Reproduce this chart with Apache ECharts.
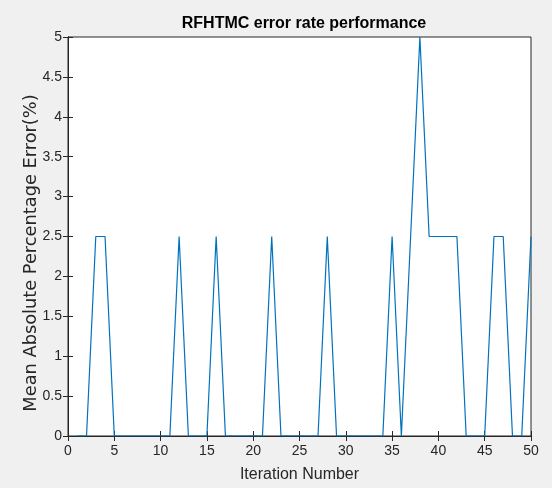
<!DOCTYPE html>
<html>
<head>
<meta charset="utf-8">
<script src="https://cdn.jsdelivr.net/npm/echarts@6/dist/echarts.min.js"></script>
<style>
html,body{margin:0;padding:0;background:#f0f0f0;}
#c{width:552px;height:488px;}
</style>
</head>
<body>
<div id="c"></div>
<script>
const titleText = 'RFHTMC error rate performance';
const xName = 'Iteration Number';
const yName = 'Mean Absolute Percentage Error(%)';
const iterations = [1,2,3,4,5,6,7,8,9,10,11,12,13,14,15,16,17,18,19,20,21,22,23,24,25,26,27,28,29,30,31,32,33,34,35,36,37,38,39,40,41,42,43,44,45,46,47,48,49,50];
const errorRate = [0,0,2.5,2.5,0,0,0,0,0,0,0,2.5,0,0,0,2.5,0,0,0,0,0,2.5,0,0,0,0,0,2.5,0,0,0,0,0,0,2.5,0,2.5,5,2.5,2.5,2.5,2.5,0,0,0,2.5,2.5,0,0,2.5];

const font = 'Liberation Sans, Arial, sans-serif';
const chart = echarts.init(document.getElementById('c'));
const axisLine = {show: true, lineStyle: {color: '#262626', width: 1}};
const axisTick = {show: true, inside: true, length: 5, lineStyle: {color: '#262626'}};
const labelStyle = {color: '#262626', fontSize: 14, fontFamily: font};
chart.setOption({
  backgroundColor: '#f0f0f0',
  animation: false,
  title: {
    text: titleText, left: 299, top: 11, textAlign: 'center',
    textStyle: {fontSize: 16, fontWeight: 'bold', color: '#000', fontFamily: font}
  },
  grid: {left: 68, right: 21, top: 37, bottom: 50, show: true, backgroundColor: '#ffffff', borderColor: '#262626', borderWidth: 1},
  xAxis: [
    {type: 'value', min: 0, max: 50, interval: 5, position: 'bottom',
      name: xName, nameLocation: 'middle', nameGap: 31,
      nameTextStyle: {fontSize: 16, color: '#262626', fontFamily: font},
      axisLine, axisTick, splitLine: {show: false},
      axisLabel: Object.assign({margin: 8}, labelStyle)},
    {type: 'value', min: 0, max: 50, interval: 5, position: 'top',
      axisLine, axisTick, splitLine: {show: false}, axisLabel: {show: false}}
  ],
  yAxis: [
    {type: 'value', min: 0, max: 5, interval: 0.5, position: 'left',
      axisLine, axisTick, splitLine: {show: false},
      axisLabel: Object.assign({margin: 6}, labelStyle)},
    {type: 'value', min: 0, max: 5, interval: 0.5, position: 'right',
      axisLine, axisTick, splitLine: {show: false}, axisLabel: {show: false}}
  ],
  graphic: [{
    type: 'text', x: 31, y: 253, rotation: Math.PI / 2,
    style: {text: yName, fontSize: 17.8, fontFamily: 'DejaVu Sans, sans-serif', fill: '#262626',
      textAlign: 'center', textVerticalAlign: 'middle'}
  }],
  series: [{
    type: 'line',
    data: iterations.map((x, i) => [x, errorRate[i]]),
    showSymbol: false,
    lineStyle: {color: '#0072bd', width: 1.2},
    itemStyle: {color: '#0072bd'}
  }]
});
</script>
</body>
</html>
